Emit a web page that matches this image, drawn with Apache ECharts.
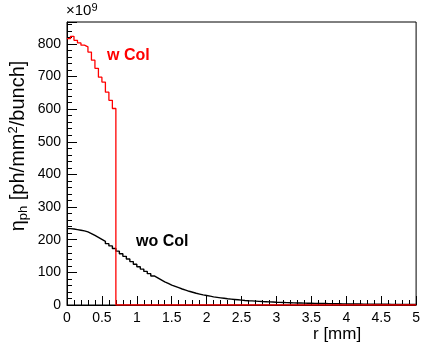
<!DOCTYPE html>
<html><head><meta charset="utf-8">
<script src="https://cdn.jsdelivr.net/npm/echarts@6/dist/echarts.min.js"></script>
<style>html,body{margin:0;padding:0;background:#fff}#c{width:423px;height:348px}</style>
</head><body><div id="c"></div>
<script>
var binWidth = 0.05;
var nBins = 100;
var wColValues = [816, 823, 811, 803, 796, 791, 775, 750, 725, 698, 683, 652, 627, 602];
var woColValues = [
 234, 233, 231, 229, 227, 224, 219, 213, 207, 201,
 195, 188, 181, 173, 165, 157, 149, 141, 133, 125,
 117, 110, 103, 96, 89, 83, 77, 71, 66, 61,
 57, 53, 49, 45.5, 42, 39, 36, 33.5, 31, 29,
 27, 25, 23.5, 22, 20.5, 19, 18, 17, 16, 15,
 14, 13.2, 12.5, 11.8, 11.1, 10.5, 10, 9.5, 9, 8.5,
 8.1, 7.7, 7.3, 7, 6.6, 6.3, 6, 5.7, 5.4, 5.2,
 5, 4.8, 4.6, 4.4, 4.2, 4.0, 3.9, 3.7, 3.5, 3.4,
 3.2, 3.1, 3.0, 2.9, 2.8, 2.7, 2.6, 2.5, 2.4, 2.3,
 2.2, 2.1, 2.0, 1.9, 1.9, 1.8, 1.7, 1.7, 1.6, 1.6
];
var xTickLabels = ['0','0.5','1','1.5','2','2.5','3','3.5','4','4.5','5'];

function histData(vals) {
  var d = [];
  for (var i = 0; i < nBins; i++) {
    var v = i < vals.length ? vals[i] : 0;
    d.push([+(i * binWidth).toFixed(4), v]);
  }
  var last = vals.length >= nBins ? vals[nBins - 1] : 0;
  d.push([+(nBins * binWidth).toFixed(4), last]);
  return d;
}

var font = 'Liberation Sans, Arial, Helvetica, sans-serif';
var chart = echarts.init(document.getElementById('c'), null, {renderer: 'canvas'});
chart.setOption({
  animation: false,
  backgroundColor: '#fff',
  grid: {left: 67, right: 4, top: 22, bottom: 43, show: true, borderColor: '#000', borderWidth: 1, backgroundColor: 'transparent'},
  xAxis: {
    type: 'value', min: 0, max: 5, interval: 0.5,
    axisLine: {show: true, lineStyle: {color: '#000', width: 1}},
    axisTick: {show: true, inside: true, length: 9, lineStyle: {color: '#000'}},
    minorTick: {show: true, splitNumber: 5, length: 5, lineStyle: {color: '#000'}},
    splitLine: {show: false},
    axisLabel: {color: '#000', fontFamily: font, fontSize: 14, margin: 6,
      formatter: function (v) { return xTickLabels[Math.round(v / 0.5)]; }}
  },
  yAxis: {
    type: 'value', min: 0, max: 867, interval: 100,
    axisLine: {show: true, lineStyle: {color: '#000', width: 1}},
    axisTick: {show: true, inside: true, length: 10, lineStyle: {color: '#000'}},
    minorTick: {show: true, splitNumber: 5, length: 5, lineStyle: {color: '#000'}},
    splitLine: {show: false},
    axisLabel: {color: '#000', fontFamily: font, fontSize: 14, margin: 6, showMaxLabel: false}
  },
  series: [
    {type: 'line', step: 'end', data: histData(woColValues), symbol: 'none',
     lineStyle: {color: '#000', width: 1.4}, z: 3},
    {type: 'line', step: 'end', data: histData(wColValues), symbol: 'none',
     lineStyle: {color: '#ff0000', width: 1.3}, z: 4}
  ],
  graphic: [
    {type: 'text', left: 66, top: 2, style: {rich: {a: {fontSize: 15, fontFamily: font, fill: '#000'}, s: {fontSize: 11, fontFamily: font, fill: '#000', verticalAlign: 'top', padding: [0,0,7,0]}}, text: '{a|×10}{s|9}'}},
    {type: 'text', x: 18, y: 146, rotation: Math.PI / 2,
     style: {align: 'center', verticalAlign: 'middle',
       rich: {a: {fontSize: 20, fontFamily: font, fill: '#000'},
              sub: {fontSize: 13, fontFamily: font, fill: '#000', padding: [10,0,0,0]},
              sup: {fontSize: 13, fontFamily: font, fill: '#000', padding: [0,0,10,0]}},
       text: '{a|η}{sub|ph}{a| [ph/mm}{sup|2}{a|/bunch]}'}},
    {type: 'text', left: 313, top: 326, style: {text: 'r [mm]', fontSize: 17, fontFamily: font, fill: '#000'}},
    {type: 'text', left: 107, top: 48, style: {text: 'w Col', fontSize: 16, fontWeight: 'bold', fontFamily: font, fill: '#ff0000'}},
    {type: 'text', left: 136, top: 234, style: {text: 'wo Col', fontSize: 16, fontWeight: 'bold', fontFamily: font, fill: '#000'}}
  ]
});
</script></body></html>
